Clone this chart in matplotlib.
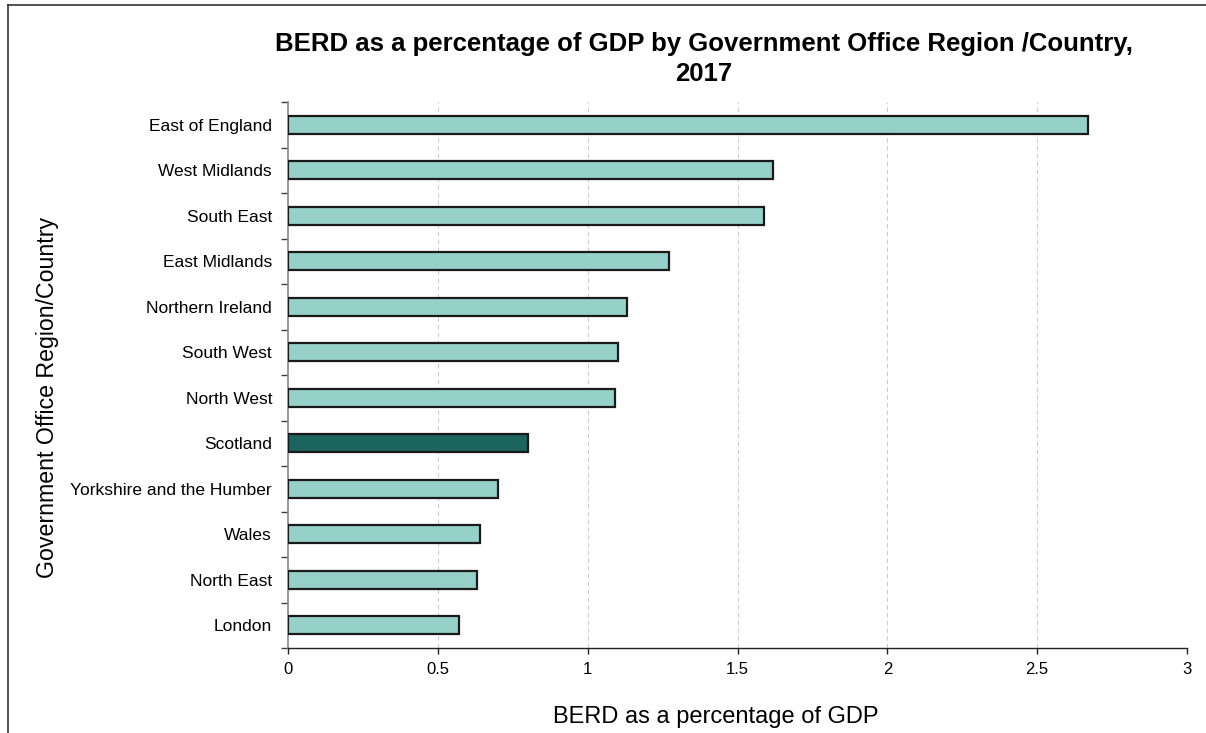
import numpy as np
import matplotlib.pyplot as plt
from matplotlib.ticker import FixedLocator
from matplotlib.lines import Line2D

plt.rcParams['font.family'] = ['Liberation Sans', 'DejaVu Sans']

regions = ["East of England", "West Midlands", "South East", "East Midlands",
           "Northern Ireland", "South West", "North West", "Scotland",
           "Yorkshire and the Humber", "Wales", "North East", "London"]
berd_pct = [2.67, 1.62, 1.59, 1.27, 1.13, 1.10, 1.09, 0.80, 0.70, 0.64, 0.63, 0.57]
highlight = "Scotland"
x_ticks = [0, 0.5, 1, 1.5, 2, 2.5, 3]
x_tick_labels = ["0", "0.5", "1", "1.5", "2", "2.5", "3"]

light = "#96d1c9"
dark = "#1c645e"
colors = [dark if r == highlight else light for r in regions]

fig = plt.figure(figsize=(12.06, 7.33), dpi=100)
ax = fig.add_axes([288 / 1206, 1 - 648 / 733, (1187 - 288) / 1206, (648 - 102) / 733])

y = np.arange(len(regions))
ax.barh(y, berd_pct, height=0.4, color=colors, edgecolor="#1a1a1a", linewidth=1.6, zorder=3)

ax.set_ylim(len(regions) - 0.5, -0.5)
ax.set_xlim(0, 3)
ax.set_yticks(y)
ax.set_yticklabels(regions, fontsize=12.5)
ax.yaxis.set_minor_locator(FixedLocator(np.arange(-0.5, len(regions), 1)))
ax.tick_params(axis="y", which="major", length=0, pad=11.5)
ax.tick_params(axis="y", which="minor", length=5, width=1, color="#404040")

ax.set_xticks(x_ticks)
ax.set_xticklabels(x_tick_labels, fontsize=12)
ax.tick_params(axis="x", length=4, width=1, color="#222222", pad=6)

for xv in x_ticks[1:]:
    ax.axvline(xv, color="#cccccc", linestyle=(0, (4, 3)), linewidth=0.8, zorder=1)

for s in ["top", "right"]:
    ax.spines[s].set_visible(False)
ax.spines["left"].set_color("#888888")
ax.spines["left"].set_linewidth(1.2)
ax.spines["bottom"].set_color("#222222")
ax.spines["bottom"].set_linewidth(1.0)

fig.text(716 / 1206, 1 - 717 / 733, "BERD as a percentage of GDP", fontsize=17,
         ha="center", va="center")
fig.text(48 / 1206, 1 - 397 / 733, "Government Office Region/Country", fontsize=16.7,
         rotation=90, ha="center", va="center")

fig.text(704 / 1206, 1 - 59 / 733,
         "BERD as a percentage of GDP by Government Office Region /Country,\n2017",
         fontsize=18.5, fontweight="bold", ha="center", va="center", linespacing=1.3)

# figure frame: left and top only
fig.add_artist(Line2D([8 / 1206, 8 / 1206], [0, 1 - 5 / 733], transform=fig.transFigure,
                      color="#333333", linewidth=1.2))
fig.add_artist(Line2D([8 / 1206, 1], [1 - 5 / 733, 1 - 5 / 733], transform=fig.transFigure,
                      color="#333333", linewidth=1.2))

fig.savefig("out.png", dpi=100)
